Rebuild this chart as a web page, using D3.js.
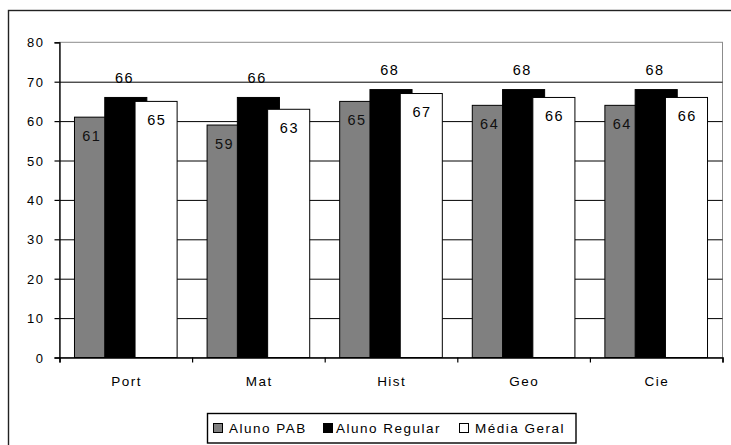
<!DOCTYPE html>
<html>
<head>
<meta charset="utf-8">
<script src="https://cdn.jsdelivr.net/npm/d3@7/dist/d3.min.js"></script>
<style>
  html, body { margin: 0; padding: 0; background: #fff; }
  svg { display: block; font-family: "Liberation Sans", Arial, sans-serif; }
</style>
</head>
<body>
<svg id="chart" width="731" height="445"></svg>
<script>
const categories = ["Port", "Mat", "Hist", "Geo", "Cie"];
const seriesNames = ["Aluno PAB", "Aluno Regular", "Média Geral"];
const alunoPAB = [61, 59, 65, 64, 64];
const alunoRegular = [66, 66, 68, 68, 68];
const mediaGeral = [65, 63, 67, 66, 66];
const yTicks = [0, 10, 20, 30, 40, 50, 60, 70, 80];

const seriesValues = [alunoPAB, alunoRegular, mediaGeral];
const seriesColors = ["#808080", "#000000", "#ffffff"];

const W = 731, H = 445;
const plot = { left: 59.5, right: 722.5, top: 42.3, bottom: 357.5 };

const svg = d3.select("#chart");

// outer chart border (extends past the image on right/bottom)
svg.append("rect")
  .attr("x", 8.5).attr("y", 10.5)
  .attr("width", 760).attr("height", 460)
  .attr("fill", "none").attr("stroke", "#222").attr("stroke-width", 1.4);

const y = d3.scaleLinear().domain([0, 80]).range([plot.bottom, plot.top]);
const x0 = d3.scaleBand().domain(categories)
  .range([plot.left, plot.right])
  .paddingInner(0.226).paddingOuter(0.113);
const groupW = x0.bandwidth();
const barW = groupW * 0.41;
const x1 = d3.scalePoint().domain(seriesNames).range([0, groupW - barW]);
const stepW = x1.step();

// plot area border (gray)
svg.append("rect")
  .attr("x", plot.left).attr("y", plot.top)
  .attr("width", plot.right - plot.left).attr("height", plot.bottom - plot.top)
  .attr("fill", "none").attr("stroke", "#8c8c8c").attr("stroke-width", 1);

// gridlines
const grid = svg.append("g")
  .attr("transform", `translate(${plot.left},0)`)
  .call(d3.axisLeft(y).tickValues(yTicks.filter(v => v > 0 && v < 80))
    .tickSize(-(plot.right - plot.left)).tickFormat(""));
grid.select(".domain").remove();
grid.selectAll("line").attr("stroke", "#000").attr("stroke-width", 1);

// bars
const rows = categories.map((c, i) => ({ cat: c, vals: seriesValues.map(s => s[i]) }));
seriesNames.forEach((name, si) => {
  svg.append("g").selectAll("rect")
    .data(rows)
    .join("rect")
    .attr("x", d => x0(d.cat) + x1(name))
    .attr("y", d => y(d.vals[si]))
    .attr("width", barW)
    .attr("height", d => y(0) - y(d.vals[si]))
    .attr("fill", seriesColors[si])
    .attr("stroke", "#000").attr("stroke-width", 1);
});

// data labels
const labelFont = 14.5, labelLS = 1.5;
seriesNames.forEach((name, si) => {
  svg.append("g").selectAll("text")
    .data(rows)
    .join("text")
    .attr("x", d => {
      const left = x0(d.cat) + x1(name);
      if (si === 0) return left + stepW / 2 + 1.5 + labelLS / 2;
      if (si === 1) return left + barW / 2 - 2 + labelLS / 2;
      return left + barW / 2 + labelLS / 2;
    })
    .attr("y", d => si === 1 ? y(d.vals[si]) - 14.5 : y(d.vals[si]) + 23.5)
    .attr("text-anchor", "middle")
    .attr("font-size", labelFont)
    .attr("letter-spacing", labelLS)
    .attr("fill", si === 0 ? "#111" : "#000")
    .text(d => d.vals[si]);
});

// left axis
const yAxis = svg.append("g")
  .attr("transform", `translate(${plot.left},0)`)
  .call(d3.axisLeft(y).tickValues(yTicks).tickSize(5).tickPadding(10));
yAxis.select(".domain").attr("stroke", "#000").attr("stroke-width", 1.3);
yAxis.selectAll("line").attr("stroke", "#000").attr("stroke-width", 1.2);
yAxis.selectAll("text")
  .attr("font-family", "'Liberation Sans', Arial, sans-serif")
  .attr("font-size", 13).attr("letter-spacing", 1.5).attr("fill", "#000")
  .attr("dy", "0.36em");

// bottom axis: ticks at category boundaries
const xb = d3.scaleLinear().domain([0, categories.length]).range([plot.left, plot.right]);
const xTickAxis = svg.append("g")
  .attr("transform", `translate(0,${plot.bottom})`)
  .call(d3.axisBottom(xb).tickValues(d3.range(categories.length + 1)).tickSize(5).tickFormat(""));
xTickAxis.select(".domain").attr("stroke", "#000").attr("stroke-width", 1.5);
xTickAxis.selectAll("line").attr("stroke", "#000").attr("stroke-width", 1.2);

// category labels
const xLabAxis = svg.append("g")
  .attr("transform", `translate(0,${plot.bottom})`)
  .call(d3.axisBottom(x0).tickSize(0).tickPadding(19));
xLabAxis.select(".domain").remove();
xLabAxis.selectAll("text")
  .attr("font-family", "'Liberation Sans', Arial, sans-serif")
  .attr("font-size", 13.5).attr("letter-spacing", 1.5).attr("fill", "#000")
  .attr("dx", 0.75);

// legend
const legend = svg.append("g");
legend.append("rect")
  .attr("x", 207.5).attr("y", 413.5).attr("width", 368.5).attr("height", 29.5)
  .attr("fill", "#fff").attr("stroke", "#000").attr("stroke-width", 1.4);
const legendX = [213.5, 323.5, 459.5];
const legItems = legend.selectAll("g.item")
  .data(seriesNames)
  .join("g").attr("class", "item")
  .attr("transform", (d, i) => `translate(${legendX[i]},423.5)`);
legItems.append("rect")
  .attr("width", 9).attr("height", 9)
  .attr("fill", (d, i) => seriesColors[i])
  .attr("stroke", "#000").attr("stroke-width", 1);
legItems.append("text")
  .attr("x", (d, i) => i === 1 ? 12.5 : 15.5)
  .attr("y", 9.5)
  .attr("font-size", 13.5).attr("letter-spacing", 1.5).attr("fill", "#000")
  .text(d => d);
</script>
</body>
</html>
